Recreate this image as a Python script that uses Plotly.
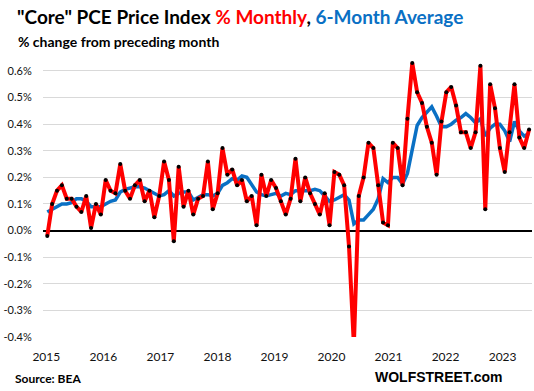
import plotly.graph_objects as go

# Core PCE price index, % change from preceding month (Jan 2015 .. Apr 2023)
MONTHLY = [
    -0.02, 0.10, 0.15, 0.17, 0.12, 0.12, 0.09, 0.07, 0.13, 0.01, 0.10, 0.06,   # 2015
    0.19, 0.15, 0.14, 0.25, 0.15, 0.12, 0.17, 0.19, 0.11, 0.15, 0.05, 0.13,    # 2016
    0.26, 0.19, -0.04, 0.24, 0.09, 0.15, 0.06, 0.12, 0.13, 0.26, 0.08, 0.14,   # 2017
    0.31, 0.21, 0.23, 0.17, 0.19, 0.11, 0.13, 0.02, 0.21, 0.13, 0.19, 0.16,    # 2018
    0.11, 0.06, 0.12, 0.27, 0.11, 0.20, 0.14, 0.10, 0.06, 0.14, 0.02, 0.22,    # 2019
    0.21, 0.17, -0.06, -0.43, 0.13, 0.20, 0.33, 0.31, 0.17, 0.03, 0.02, 0.33,  # 2020
    0.31, 0.17, 0.42, 0.63, 0.52, 0.48, 0.39, 0.33, 0.21, 0.41, 0.52, 0.54,    # 2021
    0.47, 0.37, 0.37, 0.31, 0.37, 0.62, 0.08, 0.55, 0.46, 0.31, 0.22, 0.37,    # 2022
    0.55, 0.35, 0.31, 0.38,                                                    # 2023
]

# 6-month average
AVG6 = [
    0.07, 0.08, 0.09, 0.10, 0.10, 0.105, 0.12, 0.12, 0.11, 0.09, 0.09, 0.09,
    0.10, 0.11, 0.115, 0.145, 0.155, 0.16, 0.165, 0.165, 0.16, 0.15, 0.14, 0.13,
    0.135, 0.15, 0.13, 0.14, 0.145, 0.145, 0.115, 0.125, 0.135, 0.135, 0.13, 0.14,
    0.17, 0.18, 0.195, 0.19, 0.205, 0.20, 0.17, 0.145, 0.135, 0.13, 0.135, 0.14,
    0.13, 0.14, 0.135, 0.15, 0.15, 0.15, 0.15, 0.155, 0.15, 0.13, 0.11, 0.115,
    0.125, 0.135, 0.115, 0.025, 0.04, 0.04, 0.06, 0.08, 0.12, 0.195, 0.18, 0.20,
    0.20, 0.175, 0.215, 0.31, 0.395, 0.425, 0.445, 0.465, 0.43, 0.39, 0.39, 0.40,
    0.415, 0.425, 0.44, 0.425, 0.405, 0.42, 0.355, 0.385, 0.40, 0.40, 0.375, 0.335,
    0.41, 0.375, 0.355, 0.365,
]

YEARS = ["2015", "2016", "2017", "2018", "2019", "2020", "2021", "2022", "2023"]
Y_TICKS = [-0.4, -0.3, -0.2, -0.1, 0.0, 0.1, 0.2, 0.3, 0.4, 0.5, 0.6]
Y_LABELS = ["-0.4%", "-0.3%", "-0.2%", "-0.1%", "0.0%", "0.1%", "0.2%",
            "0.3%", "0.4%", "0.5%", "0.6%"]

x = list(range(len(MONTHLY)))
year_pos = [i * 11.72 - 0.2 for i in range(len(YEARS))]

W, H = 534, 391
L, R, T, B = 43, 532, 55, 337


def px(xp):
    return (xp - L) / (R - L)


def py(yp):
    return (B - yp) / (B - T)


FONT = "Lato, 'Open Sans', sans-serif"

fig = go.Figure()
fig.add_trace(go.Scatter(
    x=x, y=AVG6, mode="lines",
    line=dict(color="#0A70C4", width=3.5),
    hoverinfo="skip", showlegend=False,
))
fig.add_trace(go.Scatter(
    x=x, y=MONTHLY, mode="lines+markers",
    line=dict(color="#FF0000", width=4),
    marker=dict(color="black", size=4),
    showlegend=False,
))

fig.update_layout(
    width=W, height=H,
    margin=dict(l=L, r=W - R, t=T, b=H - B, pad=0),
    paper_bgcolor="white", plot_bgcolor="white",
    font=dict(family=FONT, color="#111"),
    showlegend=False,
)
fig.update_xaxes(
    range=[-0.88, 99.6],
    tickmode="array", tickvals=year_pos, ticktext=YEARS,
    showgrid=False, zeroline=False, showline=False,
    ticks="outside", ticklen=9, tickcolor="rgba(0,0,0,0)",
    tickfont=dict(size=12, family=FONT, color="#111"),
)
fig.update_yaxes(
    range=[-0.4, 0.66],
    tickmode="array", tickvals=Y_TICKS, ticktext=Y_LABELS,
    showgrid=True, gridcolor="#D9D9D9", gridwidth=1,
    zeroline=True, zerolinecolor="black", zerolinewidth=1.5,
    showline=False,
    ticks="outside", ticklen=8, tickcolor="rgba(0,0,0,0)",
    tickfont=dict(size=11, family=FONT, color="#111"),
)

annotations = [
    dict(text='"Core" PCE Price Index <span style="color:#FF0000">% Monthly</span>, '
              '<span style="color:#0A70C4">6-Month Average</span>',
         x=px(15), y=py(17), font=dict(size=19, family=FONT, color="black"),
         xanchor="left", yanchor="middle"),
    dict(text="% change from preceding month",
         x=px(16), y=py(41), font=dict(size=14, family=FONT, color="black"),
         xanchor="left", yanchor="middle"),
    dict(text="Source: BEA",
         x=px(13), y=py(378), font=dict(size=12, family=FONT, color="black"),
         xanchor="left", yanchor="middle"),
    dict(text="<b>WOLFSTREET.com</b>",
         x=px(439), y=py(377), font=dict(size=14, family="Liberation Sans, Arial, sans-serif", color="black"),
         xanchor="center", yanchor="middle"),
]
for a in annotations:
    a.update(xref="paper", yref="paper", showarrow=False)
    if not a["text"].startswith("<b>"):
        a["text"] = "<b>" + a["text"] + "</b>"
fig.update_layout(annotations=annotations)

fig.write_html("out.html", config={"displayModeBar": False},
               post_script="document.body.style.margin='0px';")
